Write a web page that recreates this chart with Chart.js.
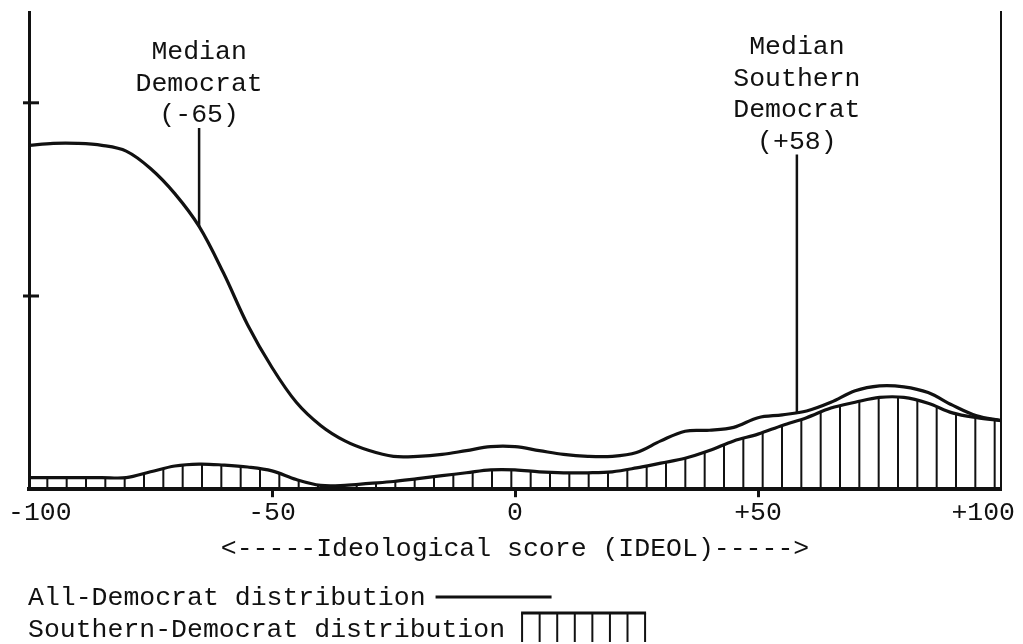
<!DOCTYPE html>
<html>
<head>
<meta charset="utf-8">
<script src="https://cdn.jsdelivr.net/npm/chart.js@4.4.1/dist/chart.umd.min.js"></script>
<style>
  html, body { margin: 0; padding: 0; background: #fff; }
  #wrap { width: 1023px; height: 644px; position: relative; }
</style>
</head>
<body>
<div id="wrap"><canvas id="chart"></canvas></div>
<script>
// Ideological score grid and the two distribution curves.
const SCORES = [-100, -95, -90, -85, -80, -75, -70, -65, -60, -55, -50, -45, -40, -35, -30, -25, -20, -15, -10, -5,
  0, 5, 10, 15, 20, 25, 30, 35, 40, 45, 50, 55, 60, 65, 70, 75, 80, 85, 90, 95, 100];
const ALL_DEMOCRAT = [17.8, 17.9, 17.9, 17.8, 17.5, 16.6, 15.3, 13.6, 11.2, 8.5, 6.3, 4.5, 3.3, 2.5, 2.0, 1.7, 1.7, 1.8, 2.0, 2.2,
  2.2, 2.0, 1.8, 1.7, 1.7, 1.9, 2.5, 3.0, 3.05, 3.2, 3.7, 3.85, 4.05, 4.5, 5.1, 5.35, 5.3, 5.0, 4.35, 3.8, 3.55];
const SOUTHERN_DEMOCRAT = [0.6, 0.6, 0.6, 0.6, 0.6, 0.9, 1.2, 1.3, 1.25, 1.15, 0.95, 0.5, 0.2, 0.2, 0.3, 0.4, 0.55, 0.7, 0.85, 1.0,
  1.0, 0.9, 0.85, 0.85, 0.9, 1.1, 1.35, 1.6, 2.0, 2.5, 2.85, 3.3, 3.7, 4.2, 4.5, 4.75, 4.75, 4.45, 3.95, 3.7, 3.55];

const X_TICKS = [-100, -50, 0, 50, 100];
const X_TICK_LABELS = ['-100', '-50', '0', '+50', '+100'];
const Y_TICKS = [10, 20];
const Y_MAX = 24.7;

const MEDIANS = [-65, 58];
const MEDIAN_LABELS = [
  ['Median', 'Democrat', '(-65)'],
  ['Median', 'Southern', 'Democrat', '(+58)']
];
const AXIS_TITLE = '<-----Ideological score (IDEOL)----->';
const LEGEND_LABELS = ['All-Democrat distribution', 'Southern-Democrat distribution'];

const INK = '#111';
const FONT_FAMILY = '"Liberation Mono", "DejaVu Sans Mono", monospace';
const FONT_SIZE = 26.5;
const FONT = FONT_SIZE + 'px ' + FONT_FAMILY;

function valueAt(series, score) {
  for (let i = 1; i < SCORES.length; i++) {
    if (score <= SCORES[i]) {
      const t = (score - SCORES[i - 1]) / (SCORES[i] - SCORES[i - 1]);
      return series[i - 1] + t * (series[i] - series[i - 1]);
    }
  }
  return series[series.length - 1];
}

function seg(ctx, x1, y1, x2, y2) {
  ctx.beginPath();
  ctx.moveTo(x1, y1);
  ctx.lineTo(x2, y2);
  ctx.stroke();
}

// annotation first-line baselines (typed separately on the original)
const MEDIAN_TOP = [59, 54];
const LINE_GAP = 31.5;

const paperPlugin = {
  id: 'paper',
  afterDraw(chart) {
    const { ctx, chartArea: area, scales: { x, y } } = chart;
    ctx.save();
    ctx.fillStyle = INK;
    ctx.strokeStyle = INK;
    ctx.font = FONT;
    ctx.textBaseline = 'alphabetic';
    ctx.lineCap = 'butt';

    // y tick marks crossing the left axis
    ctx.lineWidth = 3;
    Y_TICKS.forEach(v => {
      const py = y.getPixelForValue(v);
      seg(ctx, area.left - 6, py, area.left + 10, py);
    });

    // x tick labels, kept inside the page
    ctx.textAlign = 'center';
    X_TICKS.forEach((v, i) => {
      const w = ctx.measureText(X_TICK_LABELS[i]).width;
      const px = Math.min(Math.max(x.getPixelForValue(v), w / 2 + 8), chart.width - w / 2 - 8);
      ctx.fillText(X_TICK_LABELS[i], px, area.bottom + 31);
    });

    // median markers
    MEDIANS.forEach((m, k) => {
      const px = x.getPixelForValue(m);
      const lines = MEDIAN_LABELS[k];
      lines.forEach((t, j) => ctx.fillText(t, px, MEDIAN_TOP[k] + j * LINE_GAP));
      const top = MEDIAN_TOP[k] + (lines.length - 1) * LINE_GAP + 6;
      ctx.lineWidth = 2.5;
      seg(ctx, px, top, px, y.getPixelForValue(valueAt(ALL_DEMOCRAT, m)));
    });

    // legend
    ctx.textAlign = 'left';
    const lx = 28;
    const b1 = chart.height - 39;
    const b2 = chart.height - 7;
    ctx.fillText(LEGEND_LABELS[0], lx, b1);
    ctx.fillText(LEGEND_LABELS[1], lx, b2);
    const e1 = lx + ctx.measureText(LEGEND_LABELS[0]).width + 10;
    ctx.lineWidth = 3;
    seg(ctx, e1, b1 - 8, e1 + 116, b1 - 8);
    const e2 = lx + ctx.measureText(LEGEND_LABELS[1]).width + 16;
    seg(ctx, e2, b2 - 24, e2 + 125, b2 - 24);
    ctx.lineWidth = 2;
    for (let i = 0; i < 8; i++) {
      const hx = e2 + 1 + i * (123 / 7);
      seg(ctx, hx, b2 - 24, hx, b2 + 5);
    }
    ctx.restore();
  }
};

const chart = new Chart(document.getElementById('chart'), {
  type: 'line',
  data: {
    datasets: [
      {
        label: LEGEND_LABELS[0],
        data: SCORES.map((s, i) => ({ x: s, y: ALL_DEMOCRAT[i] })),
        borderColor: INK,
        borderWidth: 3.2,
        pointRadius: 0,
        tension: 0.35,
        fill: false
      },
      {
        label: LEGEND_LABELS[1],
        data: SCORES.map((s, i) => ({ x: s, y: SOUTHERN_DEMOCRAT[i] })),
        borderColor: INK,
        backgroundColor: 'transparent',
        borderWidth: 3.2,
        pointRadius: 0,
        tension: 0.35,
        fill: 'origin'
      }
    ]
  },
  options: {
    responsive: true,
    maintainAspectRatio: false,
    animation: false,
    layout: { padding: { top: 12, left: 29, right: 22, bottom: 79 } },
    plugins: { legend: { display: false }, tooltip: { enabled: false } },
    scales: {
      x: {
        type: 'linear',
        min: -100,
        max: 100,
        afterBuildTicks: s => { s.ticks = X_TICKS.map(v => ({ value: v })); },
        ticks: { display: false },
        grid: {
          drawOnChartArea: false,
          tickLength: 8,
          tickWidth: 3,
          tickColor: c => (Math.abs(c.tick.value) === 100 ? 'rgba(0,0,0,0)' : INK)
        },
        border: { color: INK, width: 4 },
        title: {
          display: true,
          text: AXIS_TITLE,
          color: INK,
          font: { family: FONT_FAMILY, size: FONT_SIZE },
          padding: { top: 36, bottom: 0 }
        }
      },
      y: {
        min: 0,
        max: Y_MAX,
        ticks: { display: false },
        grid: { display: false, drawTicks: false },
        border: { color: INK, width: 3 }
      },
      y2: {
        axis: 'y',
        position: 'right',
        min: 0,
        max: Y_MAX,
        ticks: { display: false },
        grid: { display: false, drawTicks: false },
        border: { color: INK, width: 2 }
      }
    }
  },
  plugins: [paperPlugin]
});

// hatch fill for the Southern distribution: one stroke every ~19.3px, anchored to the canvas
(function () {
  const c = document.createElement('canvas');
  c.width = 58;
  c.height = 8;
  const g = c.getContext('2d');
  g.fillStyle = INK;
  [8.67, 28, 47.33].forEach(x => g.fillRect(x - 1, 0, 2, 8));
  chart.data.datasets[1].backgroundColor = chart.ctx.createPattern(c, 'repeat');
  chart.update();
})();
</script>
</body>
</html>
